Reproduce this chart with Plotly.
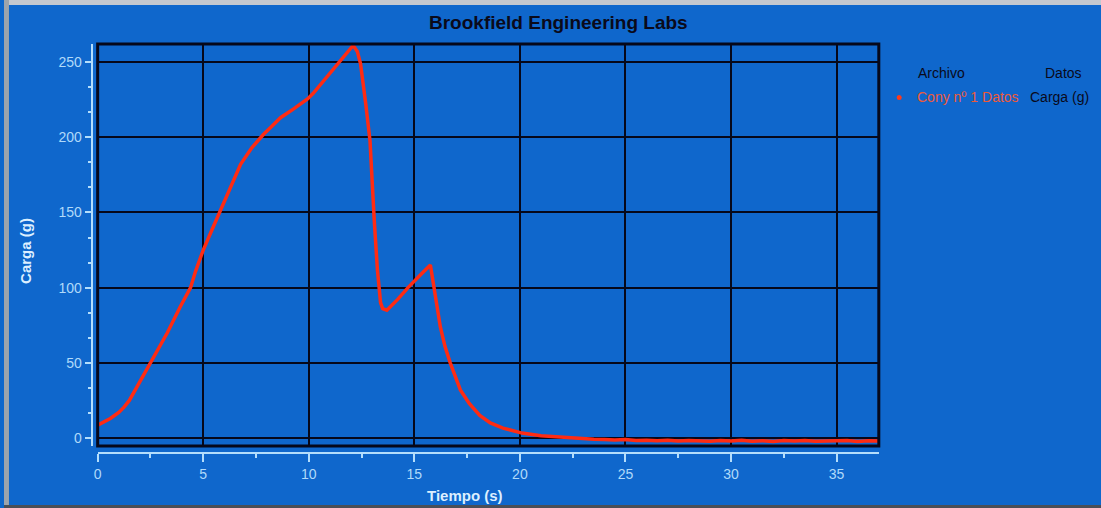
import plotly.graph_objects as go

# Load-vs-time record (Brookfield texture analyser export)
tiempo_s = [
    0.0, 0.3, 0.6, 1.0, 1.25, 1.5, 1.7, 2.0, 2.5, 3.0, 3.3, 3.9, 4.4, 4.64,
    5.0, 5.4, 5.8, 6.3, 6.77, 7.3, 7.86, 8.3, 8.66, 9.3, 9.94, 10.2, 10.55,
    11.0, 11.36, 11.8, 12.1, 12.3, 12.45, 12.7, 12.9, 13.1, 13.25, 13.4,
    13.5, 13.7, 14.2, 14.7, 15.0, 15.4, 15.76, 16.0, 16.23, 16.45, 16.7,
    17.18, 17.6, 18.1, 18.6, 19.2, 20.1, 21.0, 21.9,
    22.5, 23.0, 23.5, 24.0, 24.5, 25.0, 25.5, 26.0, 26.5, 27.0, 27.5, 28.0,
    28.5, 29.0, 29.5, 30.0, 30.5, 31.0, 31.5, 32.0, 32.5, 33.0, 33.5, 34.0,
    34.5, 35.0, 35.5, 36.0, 36.5, 37.0,
]
carga_g = [
    8.6, 10.5, 13, 17, 20.5, 25, 30, 37, 50, 62, 70, 87, 100, 111,
    125, 138, 151, 167, 182, 193, 202, 208, 213, 219, 225.5, 229, 235,
    243, 249, 256, 261, 257, 249, 222, 197.6, 145, 112, 90,
    86, 85, 92, 100, 104, 110, 115, 93.5, 74, 61, 50,
    32, 23, 15, 10, 6.6, 3.3, 1.5, 0.5,
    0.0, -0.5, -0.8, -1.0, -1.3, -1.0, -1.6, -1.4, -1.8, -1.5, -2.0, -1.6,
    -1.9, -2.2, -1.7, -2.0, -1.5, -2.1, -1.8, -2.3, -1.7, -2.0, -1.6, -2.2,
    -1.9, -2.0, -1.6, -2.3, -1.8, -2.0,
]

x_ticks = [0, 5, 10, 15, 20, 25, 30, 35]
y_ticks = [0, 50, 100, 150, 200, 250]

W, H = 1101, 508
BG = "#0f67cc"
GRID = "#06081a"
AXIS = "#b4defc"
TICK_TXT = "#b0dafa"
FONT = "Arial, Liberation Sans, sans-serif"


def px(x):
    return x / W


def py(y):
    return 1 - y / H


fig = go.Figure()
fig.add_trace(go.Scatter(
    x=tiempo_s, y=carga_g, mode="lines",
    line=dict(color="#ff2b12", width=3.5),
    showlegend=False, hoverinfo="x+y",
))

x_dom = [px(94), px(878)]
y_dom = [py(446), py(44)]

fig.update_layout(
    width=W, height=H,
    margin=dict(l=0, r=0, t=0, b=0),
    paper_bgcolor=BG, plot_bgcolor=BG,
    font=dict(family=FONT, size=14, color=TICK_TXT),
    xaxis=dict(
        domain=x_dom, range=[0, 37], anchor="free", position=py(453),
        tickvals=x_ticks, ticktext=[str(v) for v in x_ticks],
        showgrid=True, gridcolor=GRID, gridwidth=2, zeroline=False,
        showline=True, linecolor=AXIS, linewidth=2,
        ticks="outside", ticklen=8, tickwidth=2, tickcolor=AXIS,
        minor=dict(dtick=2.5, tick0=0, ticks="outside", ticklen=4,
                   tickcolor=AXIS, showgrid=False),
        tickfont=dict(size=14, color=TICK_TXT),
    ),
    yaxis=dict(
        domain=y_dom, range=[-5.3, 262], anchor="free", position=px(88),
        tickvals=y_ticks, ticktext=[str(v) for v in y_ticks],
        showgrid=True, gridcolor=GRID, gridwidth=2, zeroline=False,
        showline=True, linecolor=AXIS, linewidth=2,
        ticks="outside", ticklen=6, tickwidth=2, tickcolor=AXIS,
        minor=dict(dtick=50 / 3, tick0=0, ticks="outside", ticklen=3,
                   tickcolor=AXIS, showgrid=False),
        tickfont=dict(size=14, color=TICK_TXT),
    ),
)

# plot frame
fig.add_shape(type="rect", xref="paper", yref="paper",
              x0=x_dom[0], x1=x_dom[1], y0=y_dom[0], y1=y_dom[1],
              line=dict(color=GRID, width=3), layer="above")

# scanned outer edge
fig.add_shape(type="rect", xref="paper", yref="paper", x0=0, x1=1,
              y0=py(5), y1=1, line_width=0, fillcolor="#c4c8cf", layer="above")
fig.add_shape(type="rect", xref="paper", yref="paper", x0=0, x1=px(5),
              y0=0, y1=1, line_width=0, fillcolor="#9ea4ac", layer="above")
fig.add_shape(type="rect", xref="paper", yref="paper", x0=0, x1=1,
              y0=0, y1=py(505), line_width=0, fillcolor="#4a4f58", layer="above")

annotations = [
    dict(x=px(557), y=py(22), text="<b>Brookfield Engineering Labs</b>",
         font=dict(size=19, color="#0a0a1a")),
    dict(x=px(463), y=py(495), text="<b>Tiempo (s)</b>",
         font=dict(size=15, color="#dcefff")),
    dict(x=px(21), y=py(251), text="<b>Carga (g)</b>", textangle=-90,
         font=dict(size=15, color="#dcefff")),
    dict(x=px(941), y=py(73), text="Archivo",
         font=dict(size=14, color="#0a0a1a")),
    dict(x=px(1063), y=py(73), text="Datos",
         font=dict(size=14, color="#0a0a1a")),
    dict(x=px(968), y=py(97), text="Cony nº 1 Datos",
         font=dict(size=14, color="#ec5a3a")),
    dict(x=px(1059), y=py(97), text="Carga (g)",
         font=dict(size=14, color="#0a0a1a")),
]
for a in annotations:
    a.update(xref="paper", yref="paper", showarrow=False,
             xanchor="center", yanchor="middle")
    a["font"]["family"] = FONT
    fig.add_annotation(**a)

# legend marker
fig.add_shape(type="circle", xref="paper", yref="paper",
              x0=px(896), x1=px(901), y0=py(100), y1=py(95),
              fillcolor="#ff3a1a", line_width=0)

fig.write_html("out.html")
